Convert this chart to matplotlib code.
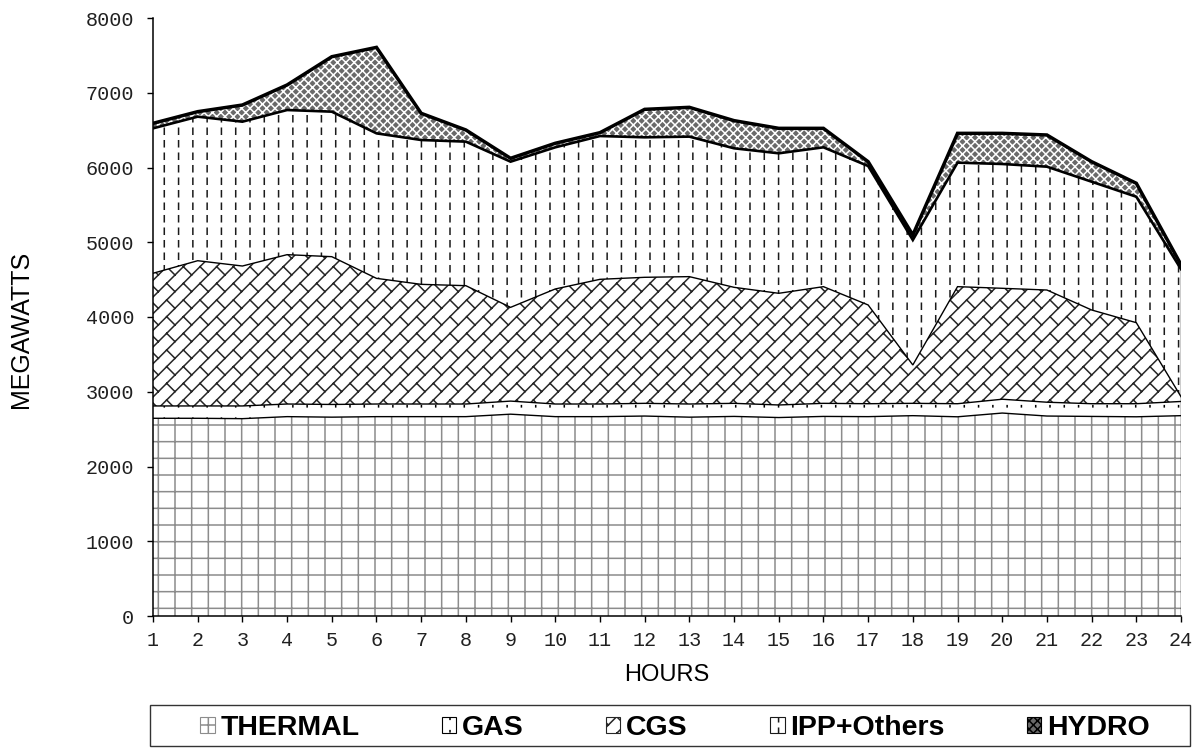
import warnings

import numpy as np
import matplotlib
matplotlib.use("Agg")
import matplotlib.pyplot as plt
from matplotlib import hatch as mhatch
from matplotlib.path import Path
from matplotlib.patches import Patch, Rectangle
from matplotlib import MatplotlibDeprecationWarning

# hourly generation mix, MW
hours = list(range(1, 25))
thermal = [2645, 2645, 2640, 2667, 2660, 2667, 2667, 2667, 2700, 2667, 2667, 2675,
           2660, 2670, 2655, 2670, 2667, 2680, 2665, 2715, 2675, 2670, 2665, 2680]
gas = [165, 165, 170, 169, 170, 169, 169, 169, 175, 169, 169, 170,
       176, 175, 168, 175, 173, 165, 175, 185, 185, 170, 175, 190]
cgs = [1775, 1943, 1872, 1998, 1977, 1681, 1601, 1583, 1254, 1539, 1668, 1686,
       1704, 1552, 1494, 1561, 1321, 513, 1566, 1484, 1501, 1254, 1084, 64]
ipp = [1939, 1927, 1931, 1935, 1940, 1940, 1931, 1927, 1949, 1895, 1917, 1873,
       1873, 1860, 1873, 1864, 1859, 1672, 1659, 1663, 1650, 1716, 1685, 1706]
hydro = [67, 67, 223, 335, 735, 1150, 357, 156, 45, 54, 45, 374,
         392, 370, 334, 254, 58, 67, 392, 410, 424, 268, 180, 60]
names = ["THERMAL", "GAS", "CGS", "IPP+Others", "HYDRO"]


class DashHatch(mhatch.HatchPatternBase):
    """Short vertical dashes on a square grid ('!' dashes, ':' dots)."""

    def __init__(self, hatch, density):
        self.half = 0.03 if "!" in hatch else 0.006
        n = hatch.count("!") + hatch.count(":")
        self.cols = 7 * n
        self.rows = 8 * n
        self.num_vertices = self.cols * self.rows * 2

    def set_vertices_and_codes(self, vertices, codes):
        gx, gy = np.meshgrid((np.arange(self.cols) + 0.5) / self.cols,
                             (np.arange(self.rows) + 0.5) / self.rows)
        gx, gy = gx.ravel(), gy.ravel()
        vertices[0::2, 0] = gx
        vertices[0::2, 1] = gy - self.half
        vertices[1::2, 0] = gx
        vertices[1::2, 1] = gy + self.half
        codes[0::2] = Path.MOVETO
        codes[1::2] = Path.LINETO


class BrickHatch(mhatch.HatchPatternBase):
    """Diagonal brickwork: '/' courses joined by staggered '\\' headers ('b')."""

    def __init__(self, hatch, density):
        self.n = 6 * hatch.count("b")   # courses per tile
        self.m = self.n                 # bricks per course per tile
        if self.n:
            nc = 2 * self.n + 1
            self.num_vertices = 2 * nc + 2 * nc * 3 * self.m
        else:
            self.num_vertices = 0

    def set_vertices_and_codes(self, vertices, codes):
        n, m = self.n, self.m
        verts = []
        for k in range(-n, n + 1):
            c = k / n
            verts += [(c - 1, -1), (c + 2, 2)]
            for j in range(-m, 2 * m):
                t = j / m
                x0, y0 = c + t, t
                verts += [(x0, y0), (x0 + 0.5 / n, y0 - 0.5 / n)]
        vertices[:] = np.asarray(verts, dtype=float)
        codes[0::2] = Path.MOVETO
        codes[1::2] = Path.LINETO


mhatch._hatch_types += [DashHatch, BrickHatch]
warnings.filterwarnings("ignore", category=MatplotlibDeprecationWarning)

plt.rcParams["hatch.linewidth"] = 1.1

# face, hatch colour, hatch code
styles = [
    ("white", "#8c8c8c", "+"),
    ("white", "black", ":"),
    ("white", "#262626", "b"),
    ("white", "#1a1a1a", "!"),
    ("#6a6a6a", "white", "xxxx"),
]

fig = plt.figure(figsize=(12.02, 7.49), dpi=100)
ax = fig.add_axes([153 / 1202, 1 - 616 / 749, 1028 / 1202, 598 / 749])

layers = ax.stackplot(hours, thermal, gas, cgs, ipp, hydro)
for poly, (fc, hc, h) in zip(layers, styles):
    poly.set_facecolor(fc)
    poly.set_edgecolor(hc)
    poly.set_hatch(h)
    poly.set_linewidth(0)

tops = np.cumsum([thermal, gas, cgs, ipp, hydro], axis=0)
widths = [1.0, 1.0, 1.0, 1.9, 2.5]
for top, lw in zip(tops, widths):
    ax.plot(hours, top, color="black", lw=lw, solid_joinstyle="miter")
ax.vlines(hours[-1], 0, tops[-1][-1], color="black", lw=1.0)

ax.set_xlim(1, 24)
ax.set_ylim(0, 8000)
ax.set_xticks(hours)
ax.set_yticks(range(0, 8001, 1000))
for side in ("top", "right"):
    ax.spines[side].set_visible(False)
for side in ("left", "bottom"):
    ax.spines[side].set_linewidth(1.1)
ax.tick_params(direction="out", length=4.5, width=1.0, colors="black")
ax.tick_params(axis="x", pad=6)
ax.tick_params(axis="y", pad=9)
for lab in ax.get_xticklabels() + ax.get_yticklabels():
    lab.set_fontfamily("Liberation Mono")
    lab.set_fontsize(14.5)
    lab.set_color("#202020")

ax.set_xlabel("HOURS", family="Liberation Sans", fontsize=17, va="center")
ax.xaxis.set_label_coords(0.5, -0.0987)
ax.set_ylabel("MEGAWATTS", family="Liberation Sans", fontsize=18, va="center")
ax.yaxis.set_label_coords(-0.1284, 0.48)

handles = [Patch(facecolor=fc, edgecolor=("black" if hc == "white" else hc),
                 hatch=h, lw=0.8) for fc, hc, h in styles]
fig.legend(handles, names, loc="center", bbox_to_anchor=(0.5616, 1 - 728 / 749),
           ncol=5, frameon=False, handlelength=0.5, handleheight=0.5,
           handletextpad=0.2, columnspacing=2.9, borderaxespad=0,
           prop={"family": "Liberation Sans", "weight": "bold", "size": 20.5})
fig.add_artist(Rectangle((150 / 1202, 1 - 746 / 749), 1040 / 1202, 41 / 749,
                         transform=fig.transFigure, fill=False,
                         edgecolor="#333333", lw=1.0))

fig.savefig("out.png", dpi=100)
